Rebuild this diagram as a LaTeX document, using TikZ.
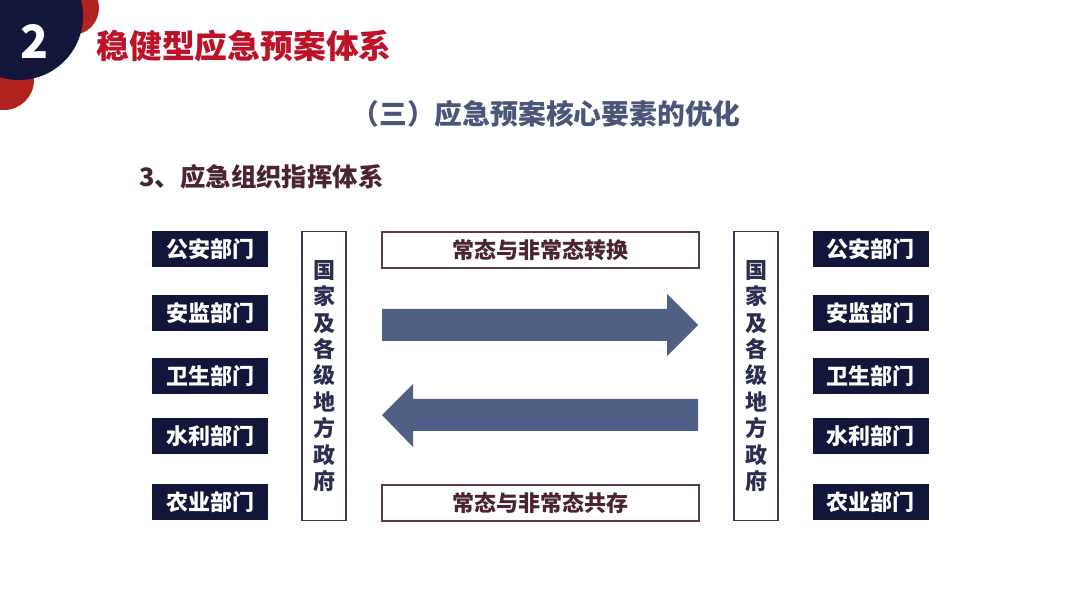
\documentclass[tikz,border=0pt]{standalone}
\usepackage{fontspec}
\newfontfamily\cjk{Noto Sans CJK SC}[BoldFont={Noto Sans CJK SC Black}]
\definecolor{navy}{HTML}{12163A}
\definecolor{redc}{HTML}{B2221F}
\definecolor{titlered}{HTML}{BE1229}
\definecolor{slate}{HTML}{4A5578}
\definecolor{maroon}{HTML}{4A2530}
\definecolor{arrowc}{HTML}{4F5F85}
\definecolor{boxline}{HTML}{5A3A45}
\tikzset{
  dept/.style={fill=navy, text=white, minimum width=58pt, minimum height=18pt, inner sep=0pt,
    font=\cjk\bfseries\fontsize{11}{11}\selectfont},
  govbox/.style={draw=navy!85, line width=0.75pt, fill=white, minimum width=22pt, minimum height=144.5pt,
    inner sep=0pt, align=center, text=navy!90, font=\cjk\bfseries\fontsize{11}{13.2}\selectfont},
  modebox/.style={draw=boxline, line width=0.6pt, fill=white, minimum width=158.5pt, minimum height=18pt,
    inner sep=0pt, text=maroon, font=\cjk\bfseries\fontsize{11}{11}\selectfont},
  bigarrow/.style={fill=arrowc}
}
\begin{document}
\begin{tikzpicture}[x=0.5pt,y=-0.5pt]
\useasboundingbox (0,0) rectangle (1080,608);
\fill[white] (0,0) rectangle (1080,608);
% corner decoration
\begin{scope}
\clip (0,0) rectangle (1080,608);
\fill[redc] (72,8) circle (27);
\fill[redc] (4,80) circle (30);
\fill[navy] (19,16) circle (64);
\end{scope}
\node[text=white, font=\cjk\bfseries\fontsize{23}{23}\selectfont] (num) at (35,41) {2};
\node[anchor=west, text=titlered, inner sep=0pt, font=\cjk\bfseries\fontsize{16.4}{16.4}\selectfont] (title) at (96,46) {稳健型应急预案体系};
\node[text=slate, inner sep=0pt, font=\cjk\bfseries\fontsize{13.9}{13.9}\selectfont] (sub) at (546,114) {（三）应急预案核心要素的优化};
\node[anchor=west, text=maroon, inner sep=0pt, font=\cjk\bfseries\fontsize{12.7}{12.7}\selectfont] (sec) at (139,177) {3、应急组织指挥体系};
% left departments
\node[dept] (l1) at (210,249) {公安部门};
\node[dept] (l2) at (210,313) {安监部门};
\node[dept] (l3) at (210,376) {卫生部门};
\node[dept] (l4) at (210,436) {水利部门};
\node[dept] (l5) at (210,502) {农业部门};
% right departments
\node[dept] (r1) at (870.5,249) {公安部门};
\node[dept] (r2) at (870.5,313) {安监部门};
\node[dept] (r3) at (870.5,376) {卫生部门};
\node[dept] (r4) at (870.5,436) {水利部门};
\node[dept] (r5) at (870.5,502) {农业部门};
% government boxes
\node[govbox] (gl) at (324,376) {国\\家\\及\\各\\级\\地\\方\\政\\府};
\node[govbox] (gr) at (756,376) {国\\家\\及\\各\\级\\地\\方\\政\\府};
% mode boxes
\node[modebox] (mtop) at (540.5,250) {常态与非常态转换};
\node[modebox] (mbot) at (540.5,503) {常态与非常态共存};
% arrows
\fill[bigarrow] (382,309) -- (667,309) -- (667,294) -- (698,325) -- (667,356) -- (667,341) -- (382,341) -- cycle;
\fill[bigarrow] (698,399) -- (413,399) -- (413,384) -- (382,415) -- (413,447) -- (413,431) -- (698,431) -- cycle;
\end{tikzpicture}
\end{document}
